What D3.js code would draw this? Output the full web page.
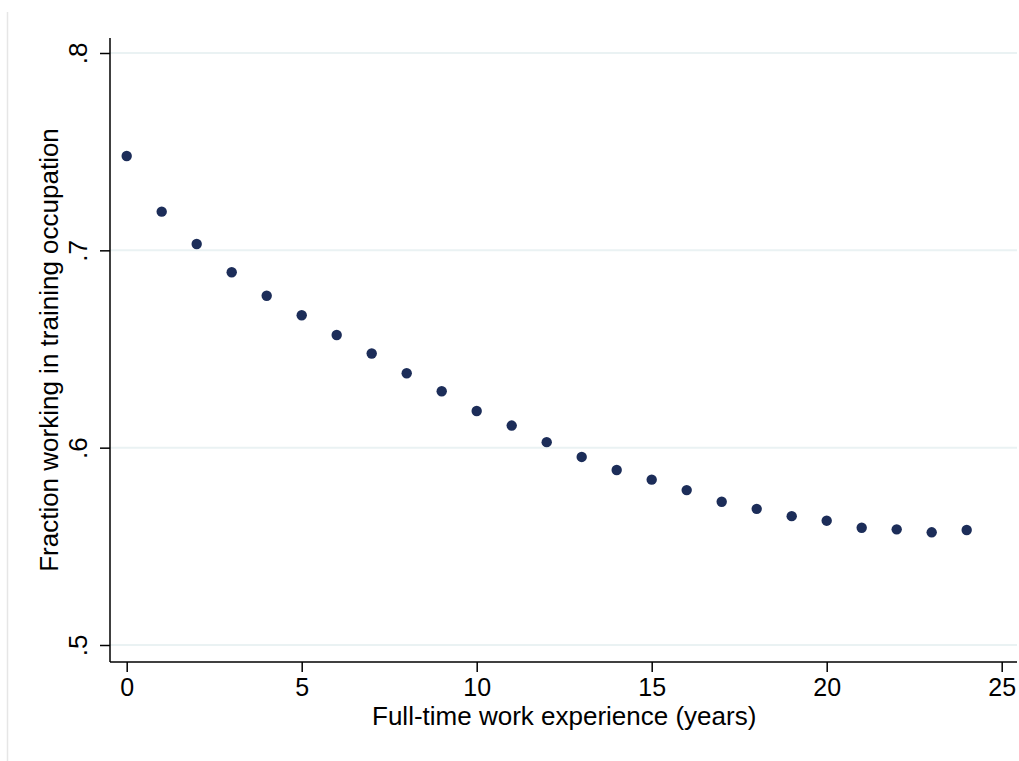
<!DOCTYPE html>
<html>
<head>
<meta charset="utf-8">
<script src="https://cdn.jsdelivr.net/npm/d3@7"></script>
<style>
  body { margin: 0; background: #fff; }
  text { font-family: "Liberation Sans", Arial, sans-serif; fill: #000; }
</style>
</head>
<body>
<div id="chart"></div>
<script>
// experience (years) and fraction still working in training occupation
const years = d3.range(0, 25);
const fraction = [0.7478, 0.7196, 0.7032, 0.6889, 0.6770, 0.6671, 0.6571, 0.6477, 0.6377,
  0.6286, 0.6186, 0.6112, 0.6028, 0.5953, 0.5887, 0.5838, 0.5785, 0.5726, 0.5690,
  0.5653, 0.5630, 0.5594, 0.5586, 0.5571, 0.5583];
const xTicks = [0, 5, 10, 15, 20, 25];
const yTicks = [0.5, 0.6, 0.7, 0.8];

const width = 1019, height = 761;

const svg = d3.select("#chart").append("svg")
  .attr("width", width)
  .attr("height", height);

const x = d3.scaleLinear().domain([0, 25]).range([126.7, 1001.7]);
const y = d3.scaleLinear().domain([0.5, 0.8]).range([645, 53]);

// plot region edges (Stata pads the axes a bit)
const plotL = 110, plotR = 1017, plotT = 38, plotB = 662;

// faint outer frame line on the left
svg.append("line")
  .attr("x1", 7.5).attr("x2", 7.5)
  .attr("y1", 12).attr("y2", height)
  .attr("stroke", "#e6e6e6").attr("stroke-width", 1.5);

// gridlines
svg.append("g")
  .selectAll("line")
  .data(yTicks)
  .join("line")
    .attr("x1", plotL).attr("x2", plotR)
    .attr("y1", d => y(d)).attr("y2", d => y(d))
    .attr("stroke", "#eaf2f3")
    .attr("stroke-width", 2);

const fmt = d => d3.format(".1f")(d).replace(/^0/, "");

// y axis
const yAxis = svg.append("g")
  .attr("transform", `translate(${plotL},0)`)
  .call(d3.axisLeft(y).tickValues(yTicks).tickSize(10).tickPadding(0).tickFormat(fmt));
yAxis.select(".domain").remove();
yAxis.selectAll(".tick line").attr("stroke", "#000").attr("stroke-width", 1.5);
yAxis.selectAll(".tick text")
  .attr("x", 0).attr("dy", null)
  .attr("transform", "translate(-23,0) rotate(-90)")
  .attr("text-anchor", "middle")
  .style("font-size", "26px");
svg.append("line")
  .attr("x1", plotL).attr("x2", plotL).attr("y1", plotT).attr("y2", plotB)
  .attr("stroke", "#000").attr("stroke-width", 1.5);

// x axis
const xAxis = svg.append("g")
  .attr("transform", `translate(0,${plotB})`)
  .call(d3.axisBottom(x).tickValues(xTicks).tickSize(10).tickFormat(d3.format("d")));
xAxis.select(".domain").remove();
xAxis.selectAll(".tick line").attr("stroke", "#000").attr("stroke-width", 1.5);
xAxis.selectAll(".tick text")
  .attr("y", 34).attr("dy", null)
  .style("font-size", "25px");
svg.append("line")
  .attr("x1", plotL).attr("x2", plotR).attr("y1", plotB).attr("y2", plotB)
  .attr("stroke", "#000").attr("stroke-width", 1.5);

// axis titles
svg.append("text")
  .attr("x", (x(0) + x(25)) / 2)
  .attr("y", 725)
  .attr("text-anchor", "middle")
  .style("font-size", "26px")
  .text("Full-time work experience (years)");

svg.append("text")
  .attr("transform", `translate(58,${(plotT + plotB) / 2}) rotate(-90)`)
  .attr("text-anchor", "middle")
  .style("font-size", "26px")
  .text("Fraction working in training occupation");

// points
svg.append("g")
  .selectAll("circle")
  .data(years)
  .join("circle")
    .attr("cx", d => x(d))
    .attr("cy", (d, i) => y(fraction[i]))
    .attr("r", 5.2)
    .attr("fill", "#1c2d59");
</script>
</body>
</html>
